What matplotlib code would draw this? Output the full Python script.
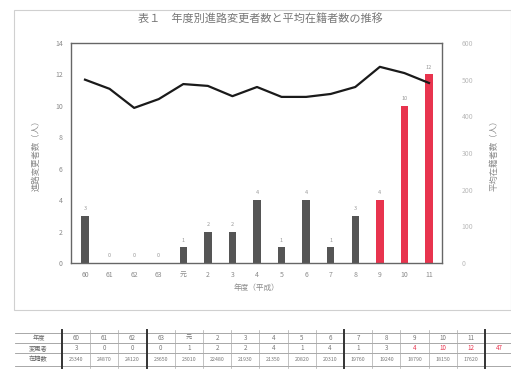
import numpy as np
import matplotlib.pyplot as plt
from matplotlib.patches import Rectangle

plt.rcParams['font.family'] = ['Noto Sans CJK JP', 'DejaVu Sans']

# ----- data ---------------------------------------------------------

years = ['60', '61', '62', '63', '元', '2', '3', '4', '5', '6', '7', '8', '9', '10', '11']
changers = [3, 0, 0, 0, 1, 2, 2, 4, 1, 4, 1, 3, 4, 10, 12]
avg_count = [500, 475, 423, 447, 488, 483, 455, 480, 453, 453, 461, 480, 535, 518, 491]
enrolled = ['25340', '24870', '24120', '23650', '23010', '22480', '21930',
            '21350', '20820', '20310', '19760', '19240', '18790', '18150', '17620']
red_from = 12   # last three years highlighted

title = '表１　年度別進路変更者数と平均在籍者数の推移'
left_label = '進路変更者数（人）'
right_label = '平均在籍者数（人）'
x_label = '年度（平成）'
row_heads = ['年度', '変更者', '在籍数']

# ----- figure -------------------------------------------------------

W, H = 511, 374
fig = plt.figure(figsize=(W / 100, H / 100), dpi=100)
fig.patch.set_facecolor('white')

grey = '#8a8a8a'
dark = '#555555'
red = '#e8344e'

# pixel-space overlay for frame and table
ov = fig.add_axes([0, 0, 1, 1])
ov.set_xlim(0, W)
ov.set_ylim(H, 0)
ov.axis('off')
ov.add_patch(Rectangle((14, 10), 497, 300, fill=False, ec='#d0d0d0', lw=0.8))

fig.text(0.51, 0.952, title, ha='center', va='center', fontsize=8, color='#777777')

# ----- main chart ---------------------------------------------------

ax = fig.add_axes([71 / W, 1 - 263 / H, (442 - 71) / W, (263 - 43) / H])
x = np.arange(len(years))
colors = [dark if i < red_from else red for i in x]
ax.bar(x, changers, width=0.3, color=colors, zorder=2)
for xi, v in zip(x, changers):
    ax.text(xi, v + 0.3, str(v), ha='center', va='bottom', fontsize=4, color='#999999')

ax.set_xlim(-0.57, len(years) - 1 + 0.53)
ax.set_ylim(0, 14)
ax.set_yticks(np.arange(0, 15, 2))
ax.set_xticks(x)
ax.set_xticklabels(years)
ax.tick_params(length=0, labelsize=5, labelcolor=grey, pad=6)
for s in ax.spines.values():
    s.set_color('#666666')
    s.set_linewidth(1.0)
ax.set_ylabel(left_label, fontsize=6, color=grey, labelpad=10)
ax.set_xlabel(x_label, fontsize=5.5, color=grey, labelpad=3)

ax2 = ax.twinx()
ax2.plot(x, avg_count, color='#1a1a1a', lw=1.6, zorder=3)
ax2.set_ylim(0, 600)
ax2.set_yticks(np.arange(0, 601, 100))
ax2.tick_params(length=0, labelsize=5, labelcolor='#bbbbbb', pad=14)
for s in ax2.spines.values():
    s.set_visible(False)
ax2.set_ylabel(right_label, fontsize=6, color=grey, labelpad=12)

# ----- data table ---------------------------------------------------

tx0, hx, cw = 15, 62, 28.2
row_y = [333, 343, 353, 366]
n = len(years)
right_edge = hx + (n + 1) * cw
for y in row_y:
    ov.plot([tx0, min(right_edge, W)], [y, y], color='#9a9a9a', lw=0.6)
for i in range(n + 2):
    xb = hx + i * cw
    if xb > W:
        break
    thick = i in (0, 3, 10, n)
    ov.plot([xb, xb], [row_y[0] - 3, row_y[-1] + 2], color='#333333' if thick else '#aaaaaa',
            lw=1.4 if thick else 0.5)
for r, head in enumerate(row_heads):
    yc = (row_y[r] + row_y[r + 1]) / 2
    ov.text((tx0 + hx) / 2, yc, head, ha='center', va='center', fontsize=4.5, color='#666666')

for i in range(n):
    xc = hx + (i + 0.5) * cw
    c = red if i >= red_from else '#777777'
    ov.text(xc, (row_y[0] + row_y[1]) / 2, years[i], ha='center', va='center', fontsize=4.5, color='#777777')
    ov.text(xc, (row_y[1] + row_y[2]) / 2, str(changers[i]), ha='center', va='center', fontsize=4.5, color=c)
    ov.text(xc, (row_y[2] + row_y[3]) / 2, enrolled[i], ha='center', va='center', fontsize=3.8, color='#777777')
ov.text(hx + (n + 0.5) * cw, (row_y[1] + row_y[2]) / 2, str(sum(changers)), ha='center',
        va='center', fontsize=4.5, color=red)

fig.savefig('out.png', dpi=100)
